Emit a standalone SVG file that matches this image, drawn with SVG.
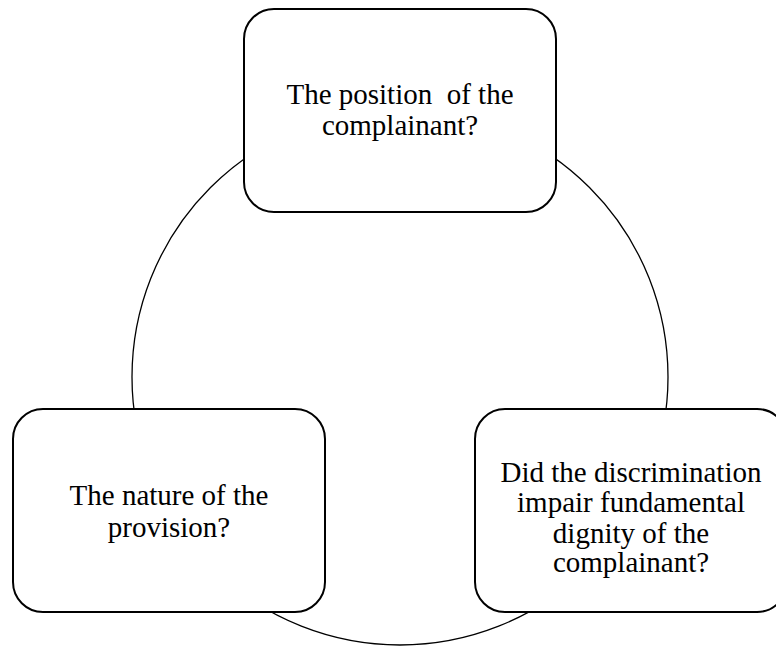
<svg xmlns="http://www.w3.org/2000/svg" width="776" height="646" viewBox="0 0 776 646">
<style>
.box{fill:#fff;stroke:#000;stroke-width:2}
.lbl{font-family:'Liberation Serif','Times New Roman',serif;font-size:29px;fill:#000;text-anchor:middle}
</style>
<rect width="776" height="646" fill="#fff"/>
<g id="connectors">
<circle cx="400" cy="377" r="268" fill="none" stroke="#000" stroke-width="1.3"/>
</g>
<g id="node-top">
<rect class="box" x="244" y="9" width="312" height="203" rx="30"/>
<text class="lbl" x="400" y="104" xml:space="preserve">The position  of the</text>
<text class="lbl" x="400" y="135">complainant?</text>
</g>
<g id="node-left">
<rect class="box" x="13" y="409" width="312" height="203" rx="30"/>
<text class="lbl" x="169" y="505">The nature of the</text>
<text class="lbl" x="169" y="537">provision?</text>
</g>
<g id="node-right">
<rect class="box" x="475" y="409" width="312" height="203" rx="30"/>
<text class="lbl" x="631" y="482">Did the discrimination</text>
<text class="lbl" x="631" y="512">impair fundamental</text>
<text class="lbl" x="631" y="543">dignity of the</text>
<text class="lbl" x="631" y="572">complainant?</text>
</g>
</svg>
